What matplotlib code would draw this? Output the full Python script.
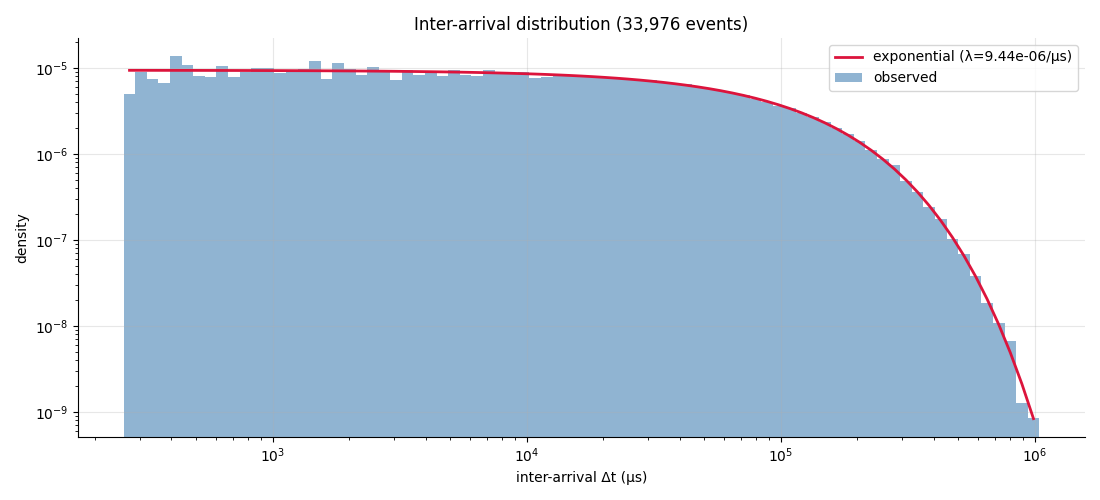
import numpy as np
import matplotlib
matplotlib.use("Agg")
import matplotlib.pyplot as plt

# ---- data ----
n_events = 33976
lam = 9.44e-06            # rate per microsecond
bin_lo = 259.4            # first bin edge (us)
bin_hi = 1.042e6          # last bin edge (us)
n_bins = 79

observed_density = [
    5.0e-6, 9.06e-6, 7.45e-6, 6.69e-6, 1.377e-5, 1.083e-5, 8.08e-6, 7.87e-6, 1.054e-5, 7.87e-6,
    9.06e-6, 1.0e-5, 1.0e-5, 8.75e-6, 9.06e-6, 9.73e-6, 1.205e-5, 7.45e-6, 1.143e-5, 9.73e-6,
    8.30e-6, 1.027e-5, 9.06e-6, 7.26e-6, 9.48e-6, 8.30e-6, 8.92e-6, 8.08e-6, 9.48e-6, 8.30e-6,
    8.08e-6, 9.48e-6, 8.75e-6, 8.52e-6, 8.99e-6, 7.75e-6, 7.9e-6, 8.2e-6, 8.1e-6, 8.0e-6,
    7.9e-6, 7.6e-6, 7.5e-6, 7.4e-6, 7.25e-6, 7.2e-6, 6.65e-6, 6.65e-6, 6.6e-6, 6.0e-6,
    5.7e-6, 5.45e-6, 5.1e-6, 4.8e-6, 4.4e-6, 4.05e-6, 3.66e-6, 3.47e-6, 2.98e-6, 2.68e-6,
    2.38e-6, 2.00e-6, 1.70e-6, 1.40e-6, 1.12e-6, 8.8e-7, 7.37e-7, 4.90e-7, 3.65e-7, 2.44e-7,
    1.77e-7, 1.04e-7, 6.79e-8, 3.77e-8, 1.84e-8, 1.08e-8, 6.65e-9, 1.27e-9, 8.5e-10,
]

title = f"Inter-arrival distribution ({n_events:,} events)"
xlabel = "inter-arrival Δt (μs)"
ylabel = "density"
line_label = f"exponential (λ={lam:.2e}/μs)"
bar_label = "observed"

# ---- derived ----
edges = np.logspace(np.log10(bin_lo), np.log10(bin_hi), n_bins + 1)
centers = np.sqrt(edges[:-1] * edges[1:])
model = lam * np.exp(-lam * centers)

fig = plt.figure(figsize=(11, 5), dpi=100)
ax = fig.add_axes([0.0709, 0.126, 0.9155, 0.798])

ax.plot(centers, model, color="crimson", lw=2, label=line_label)
ax.hist(centers, bins=edges, weights=observed_density, color="steelblue",
        alpha=0.6, label=bar_label)

ax.set_xscale("log")
ax.set_yscale("log")
ax.set_xlim(10 ** 2.234, 10 ** 6.198)
ax.set_ylim(10 ** -9.292, 10 ** -4.650)

ax.set_title(title, fontsize=12)
ax.set_xlabel(xlabel)
ax.set_ylabel(ylabel)
ax.grid(True, alpha=0.3)
ax.spines["top"].set_visible(False)
ax.spines["right"].set_visible(False)
ax.legend(loc="upper right")

fig.savefig("out.png", dpi=100)
